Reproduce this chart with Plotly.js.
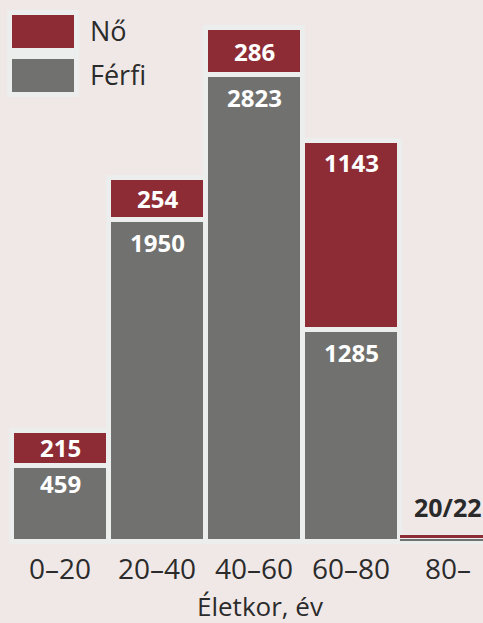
<!DOCTYPE html>
<html><head><meta charset="utf-8">
<script src="https://cdn.plot.ly/plotly-3.0.1.min.js"></script>
<style>html,body{margin:0;padding:0;background:#f0e8e7}</style>
</head><body><div id="chart" style="width:483px;height:623px"></div>
<script>
const categories = ['0–20', '20–40', '40–60', '60–80', '80–'];
const ferfi = [459, 1950, 2823, 1285, 20];
const no = [215, 254, 286, 1143, 22];
const seriesNames = ['Nő', 'Férfi'];
const xTitle = 'Életkor, év';

const FONT = 'Open Sans, Noto Sans, sans-serif';
const RED = '#8e2c35';
const GRAY = '#71716f';
const EDGE = '#eceeed';
const BG = '#f0e8e7';
const W = 483, H = 623, MB = 78;
const PH = H - MB;
const SCALE = 0.1653; // px per unit
const y0px = 541.5;
const yRange = [-(PH - y0px) / SCALE, y0px / SCALE];
const px2x = p => p / W;
const py2y = p => (PH - p) / PH;

const lineW = categories.map((c, i) => (ferfi[i] + no[i]) * SCALE < 20 ? 1.2 : 5);

const traces = [
  {type: 'bar', x: categories, y: ferfi, name: seriesNames[1], marker: {color: GRAY, line: {color: EDGE, width: lineW}}, hoverinfo: 'skip'},
  {type: 'bar', x: categories, y: no, name: seriesNames[0], marker: {color: RED, line: {color: EDGE, width: lineW}}, hoverinfo: 'skip'}
];

const annotations = [];
const lblFont = {family: FONT, size: 24, color: '#ffffff', weight: 'bold'};
categories.forEach((c, i) => {
  const total = ferfi[i] + no[i];
  if (total * SCALE < 20) {
    annotations.push({x: c, y: total, xref: 'x', yref: 'y', text: ferfi[i] + '/' + no[i], showarrow: false,
      yanchor: 'middle', yshift: 28, font: {family: FONT, size: 25, color: '#2a2a2a', weight: 'bold'}});
    return;
  }
  if (ferfi[i] * SCALE > 50) {
    annotations.push({x: c, y: ferfi[i], text: String(ferfi[i]), showarrow: false, yanchor: 'middle', yshift: ferfi[i] * SCALE < 100 ? -18 : -23, font: lblFont});
  } else {
    annotations.push({x: c, y: ferfi[i] / 2, text: String(ferfi[i]), showarrow: false, yanchor: 'middle', font: lblFont});
  }
  if (no[i] * SCALE > 50) {
    annotations.push({x: c, y: total, text: String(no[i]), showarrow: false, yanchor: 'middle', yshift: -22, font: lblFont});
  } else {
    annotations.push({x: c, y: ferfi[i] + no[i] / 2, text: String(no[i]), showarrow: false, yanchor: 'middle', font: lblFont});
  }
});

annotations.push({xref: 'paper', yref: 'paper', x: px2x(88), y: py2y(31), xanchor: 'left', yanchor: 'middle', text: seriesNames[0], showarrow: false, font: {family: FONT, size: 27, color: '#2b2b2b'}});
annotations.push({xref: 'paper', yref: 'paper', x: px2x(88), y: py2y(75), xanchor: 'left', yanchor: 'middle', text: seriesNames[1], showarrow: false, font: {family: FONT, size: 27, color: '#2b2b2b'}});
annotations.push({xref: 'paper', yref: 'paper', x: px2x(259.5), y: py2y(606), xanchor: 'center', yanchor: 'middle', text: xTitle, showarrow: false, font: {family: FONT, size: 26, color: '#2b2b2b'}});

const shapes = [
  {type: 'line', xref: 'paper', yref: 'y', x0: px2x(10), x1: 1, y0: 0, y1: 0, line: {color: EDGE, width: 5}, layer: 'below'},
  {type: 'rect', xref: 'paper', yref: 'paper', x0: px2x(7), x1: px2x(79), y0: py2y(10), y1: py2y(97), fillcolor: EDGE, line: {width: 0}, layer: 'above'},
  {type: 'rect', xref: 'paper', yref: 'paper', x0: px2x(12), x1: px2x(74), y0: py2y(15), y1: py2y(48), fillcolor: RED, line: {width: 0}, layer: 'above'},
  {type: 'rect', xref: 'paper', yref: 'paper', x0: px2x(12), x1: px2x(74), y0: py2y(59), y1: py2y(92), fillcolor: GRAY, line: {width: 0}, layer: 'above'}
];

const layout = {
  width: W, height: H,
  margin: {l: 0, r: 0, t: 0, b: MB, pad: 0},
  paper_bgcolor: BG, plot_bgcolor: BG,
  barmode: 'stack', bargap: 0,
  showlegend: false,
  font: {family: FONT},
  xaxis: {type: 'category', range: [-60 / 97, 423 / 97], showgrid: false, zeroline: false, showline: false, ticks: '',
    ticklabelstandoff: 5, tickfont: {family: FONT, size: 28, color: '#2b2b2b'}, fixedrange: true},
  yaxis: {range: yRange, visible: false, showgrid: false, zeroline: false, fixedrange: true},
  annotations: annotations,
  shapes: shapes
};

Plotly.newPlot('chart', traces, layout, {displayModeBar: false, staticPlot: true});
</script></body></html>
